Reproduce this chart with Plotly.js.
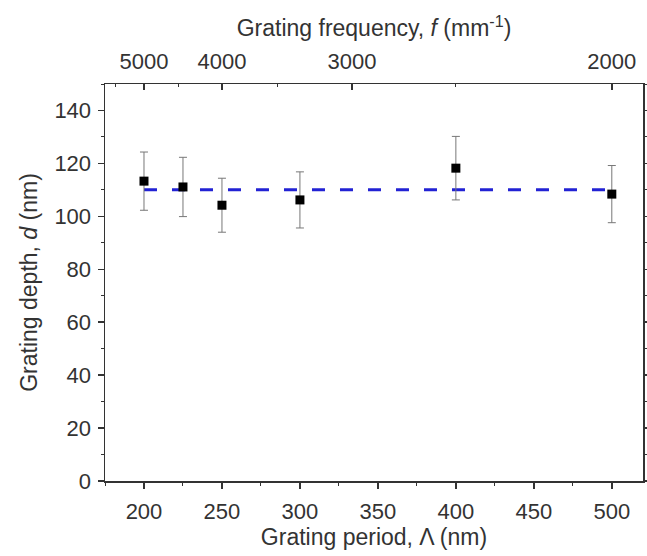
<!DOCTYPE html>
<html>
<head>
<meta charset="utf-8">
<script src="https://cdn.plot.ly/plotly-3.0.1.min.js"></script>
<style>html,body{margin:0;padding:0;background:#fff;}#chart{width:647px;height:556px;}</style>
</head>
<body>
<div id="chart"></div>
<script>
// Data
var period = [200, 225, 250, 300, 400, 500];          // Λ (nm)
var depth = [113.3, 111.1, 104.2, 106.2, 118.2, 108.4]; // d (nm)
var depthErr = [11, 11.2, 10.2, 10.6, 12, 10.8];
var meanX = [200, 500];
var meanY = [110, 110];
var freqTicks = [5000, 4000, 3000, 2000];   // mm^-1
var freqTickText = ['5000', '4000', '3000', '2000'];
var freqMinor = [5500, 4500, 3500, 2500];

var FONT = 'Liberation Sans, Arial, sans-serif';
var TXT = '#333333';
var AX = '#333333';

var traces = [
  {
    x: meanX, y: meanY, type: 'scatter', mode: 'lines',
    line: {color: '#2222d4', width: 3, dash: '13px,15px'},
    hoverinfo: 'skip', showlegend: false
  },
  {
    x: period, y: depth, type: 'scatter', mode: 'markers',
    marker: {symbol: 'square', size: 9, color: '#000000'},
    error_y: {type: 'data', array: depthErr, visible: true, color: '#777777', thickness: 1, width: 4},
    showlegend: false
  },
  {
    x: period, y: depth, xaxis: 'x2', yaxis: 'y2', type: 'scatter', mode: 'markers',
    marker: {opacity: 0}, hoverinfo: 'skip', showlegend: false
  }
];

var layout = {
  width: 647, height: 556,
  margin: {l: 105, r: 4, t: 84, b: 75},
  paper_bgcolor: '#ffffff', plot_bgcolor: '#ffffff',
  font: {family: FONT, color: TXT, size: 22},
  showlegend: false,
  xaxis: {
    range: [175, 520], tickmode: 'linear', tick0: 200, dtick: 50,
    ticks: 'outside', ticklen: 6, tickwidth: 1.5, tickcolor: AX,
    minor: {dtick: 25, tick0: 200, ticks: 'outside', ticklen: 3, tickwidth: 1, tickcolor: AX},
    showline: true, linecolor: AX, linewidth: 1.5, showgrid: false, zeroline: false,
    tickfont: {size: 22, family: FONT, color: TXT},
    ticklabelstandoff: 4,
    title: {text: 'Grating period, Λ (nm)', font: {size: 23, family: FONT, color: TXT}, standoff: 3},
    automargin: false
  },
  xaxis2: {
    overlaying: 'x', side: 'top', anchor: 'y',
    range: [175, 520], tickmode: 'array',
    tickvals: freqTicks.map(function (f) { return 1e6 / f; }),
    ticktext: freqTickText,
    ticks: 'inside', ticklen: 6, tickwidth: 1.5, tickcolor: AX,
    minor: {tickmode: 'array', tickvals: freqMinor.map(function (f) { return 1e6 / f; }), ticks: 'inside', ticklen: 3, tickwidth: 1, tickcolor: AX},
    showline: true, linecolor: AX, linewidth: 1.5, showgrid: false, zeroline: false,
    tickfont: {size: 22, family: FONT, color: TXT},
    ticklabelstandoff: 5,
    title: {text: 'Grating frequency, <i>f</i> (mm<sup>-1</sup>)', font: {size: 23, family: FONT, color: TXT}, standoff: 5},
    automargin: false
  },
  yaxis: {
    range: [0, 150], tickmode: 'linear', tick0: 0, dtick: 20,
    ticks: 'outside', ticklen: 6, tickwidth: 1.5, tickcolor: AX,
    minor: {dtick: 10, tick0: 0, ticks: 'outside', ticklen: 3, tickwidth: 1, tickcolor: AX},
    showline: true, linecolor: AX, linewidth: 1.5, showgrid: false, zeroline: false,
    tickfont: {size: 22, family: FONT, color: TXT},
    ticklabelstandoff: 2,
    title: {text: 'Grating depth, <i>d</i> (nm)', font: {size: 23, family: FONT, color: TXT}, standoff: 10},
    automargin: false
  },
  yaxis2: {
    overlaying: 'y', side: 'right', anchor: 'x',
    range: [0, 150], tickmode: 'linear', tick0: 0, dtick: 20,
    ticks: 'outside', ticklen: 5, tickwidth: 1.5, tickcolor: AX,
    minor: {dtick: 10, tick0: 0, ticks: 'outside', ticklen: 3, tickwidth: 1, tickcolor: AX},
    showline: true, linecolor: AX, linewidth: 1.5, showgrid: false, zeroline: false,
    showticklabels: false, automargin: false
  }
};

Plotly.newPlot('chart', traces, layout, {displayModeBar: false, staticPlot: true});
</script>
</body>
</html>
